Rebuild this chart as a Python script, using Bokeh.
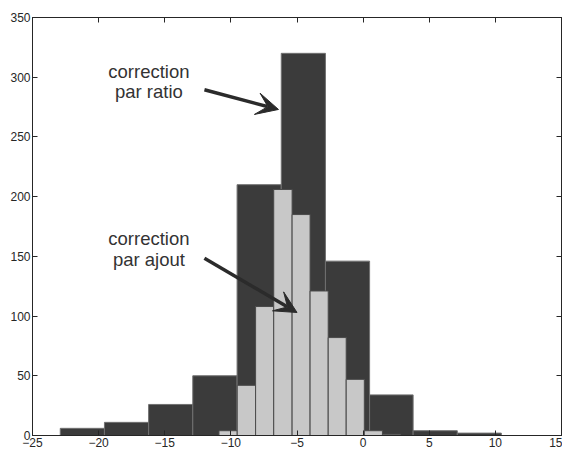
from bokeh.plotting import figure
from bokeh.models import Range1d, LinearAxis, FixedTicker, Arrow, VeeHead, ColumnDataSource
from bokeh.core.properties import value
from bokeh.embed import file_html
from bokeh.resources import INLINE

# --- data: histogram "correction par ratio" (dark) ---
ratio_edges = [-22.90, -19.56, -16.22, -12.88, -9.53, -6.19, -2.85, 0.49, 3.78, 7.12, 10.45]
ratio_counts = [6, 11, 26, 50, 210, 320, 146, 34, 4, 2]

# --- data: histogram "correction par ajout" (light) ---
ajout_edges = [-10.90, -9.52, -8.13, -6.76, -5.37, -4.01, -2.64, -1.28, 0.09, 1.46, 2.84]
ajout_counts = [4, 42, 108, 206, 185, 121, 82, 47, 4, 1]

# axis ticks
x_ticks = [-25, -20, -15, -10, -5, 0, 5, 10, 15]
y_ticks = [0, 50, 100, 150, 200, 250, 300, 350]

# annotations (label lines and arrows, in data units)
label_x = [-16.2, -16.2, -16.2, -16.2]
label_y = [304.5, 288.0, 165.0, 147.5]
label_text = ["correction", "par ratio", "correction", "par ajout"]
arrow_start = [(-12.0, 289.5), (-12.0, 148.5)]
arrow_end = [(-6.4, 273.0), (-5.0, 103.0)]

AX = "#262626"

p = figure(width=562, height=451, x_range=Range1d(-25, 15), y_range=Range1d(0, 350),
           output_backend="svg", toolbar_location=None,
           min_border_left=32, min_border_right=1, min_border_top=17, min_border_bottom=16,
           background_fill_color="white", border_fill_color="white")
p.grid.visible = False
p.outline_line_color = AX

for ax in (p.xaxis[0], p.yaxis[0]):
    ax.major_tick_in = 5
    ax.major_tick_out = 0
    ax.minor_tick_line_color = None
    ax.axis_line_color = AX
    ax.major_tick_line_color = AX
    ax.major_label_text_color = AX
    ax.major_label_text_font = "Liberation Sans"
    ax.major_label_text_font_size = "12px"
p.xaxis[0].major_label_standoff = 2
p.yaxis[0].major_label_standoff = 2
p.xaxis[0].ticker = FixedTicker(ticks=x_ticks)
p.yaxis[0].ticker = FixedTicker(ticks=y_ticks)

top_ax = LinearAxis(ticker=FixedTicker(ticks=x_ticks))
right_ax = LinearAxis(ticker=FixedTicker(ticks=y_ticks))
for ax in (top_ax, right_ax):
    ax.major_tick_in = 5
    ax.major_tick_out = 0
    ax.minor_tick_line_color = None
    ax.axis_line_color = AX
    ax.major_tick_line_color = AX
    ax.major_label_text_color = None
    ax.major_label_text_font_size = "1px"
    ax.major_label_standoff = 0
p.add_layout(top_ax, "above")
p.add_layout(right_ax, "right")

ratio_src = ColumnDataSource(dict(left=ratio_edges[:-1], right=ratio_edges[1:], top=ratio_counts))
ajout_src = ColumnDataSource(dict(left=ajout_edges[:-1], right=ajout_edges[1:], top=ajout_counts))

p.quad(left="left", right="right", bottom=0, top="top", source=ratio_src,
       fill_color="#3b3b3b", line_color="#707070", line_width=1)
p.quad(left="left", right="right", bottom=0, top="top", source=ajout_src,
       fill_color="#c8c8c8", line_color="#4a4a4a", line_width=1)

p.text(x=label_x, y=label_y, text=label_text, text_font=value("Liberation Sans"),
       text_font_size="18.5px", text_align="center", text_baseline="alphabetic",
       text_color="#333333")

for (xs, ys), (xe, ye) in zip(arrow_start, arrow_end):
    p.add_layout(Arrow(end=VeeHead(size=22, fill_color="#2b2b2b", line_color="#2b2b2b"),
                       x_start=xs, y_start=ys, x_end=xe, y_end=ye,
                       line_color="#2b2b2b", line_width=3.5))

open("out.html", "w").write(file_html(p, INLINE))
